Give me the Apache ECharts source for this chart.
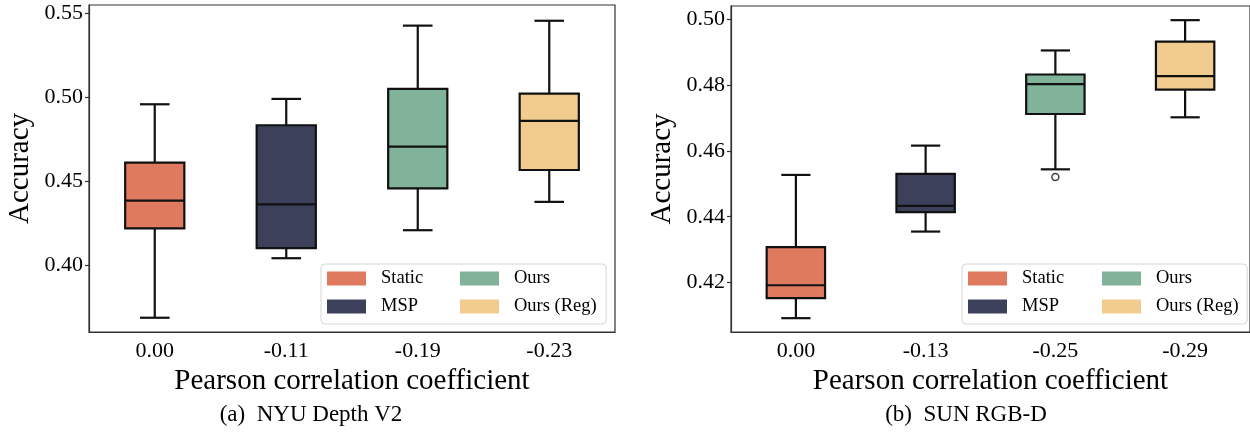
<!DOCTYPE html>
<html>
<head>
<meta charset="utf-8">
<script src="https://cdn.jsdelivr.net/npm/echarts@6/dist/echarts.min.js"></script>
<style>
  html, body { margin: 0; padding: 0; background: #fff; }
  #chart { width: 1250px; height: 440px; }
</style>
</head>
<body>
<div id="chart"></div>
<script>
const methods = ["Static", "MSP", "Ours", "Ours (Reg)"];
const methodColors = ["#E07A5F", "#3D405B", "#81B29A", "#F2CC8F"];

// x categories are the Pearson correlation coefficients
const nyuCats = ["0.00", "-0.11", "-0.19", "-0.23"];
const sunCats = ["0.00", "-0.13", "-0.25", "-0.29"];

// per method: [low whisker, Q1, median, Q3, high whisker]
const nyuStats = [
  [0.3685, 0.4218, 0.4383, 0.4610, 0.4958],
  [0.4040, 0.4100, 0.4361, 0.4833, 0.4990],
  [0.4207, 0.4456, 0.4705, 0.5050, 0.5427],
  [0.4376, 0.4566, 0.4859, 0.5022, 0.5456],
];
const sunStats = [
  [0.4092, 0.4153, 0.4192, 0.4308, 0.4527],
  [0.4355, 0.4414, 0.4433, 0.4530, 0.4616],
  [0.4544, 0.4712, 0.4803, 0.4832, 0.4905],
  [0.4702, 0.4786, 0.4827, 0.4932, 0.4997],
];
// [category index, value]
const sunOutliers = [[2, 0.4521]];

const nyuRange = [0.36, 0.555];
const sunRange = [0.405, 0.504];
const nyuTicks = [0.40, 0.45, 0.50, 0.55];
const sunTicks = [0.42, 0.44, 0.46, 0.48, 0.50];

const FONT = "'Liberation Serif', 'DejaVu Serif', serif";
const INK = "#000";
const SPINE = "#333";

const chart = echarts.init(document.getElementById("chart"));

function renderBox(params, api) {
  const x = api.value(0);
  const lo = api.coord([x, api.value(1)]);
  const q1 = api.coord([x, api.value(2)]);
  const md = api.coord([x, api.value(3)]);
  const q3 = api.coord([x, api.value(4)]);
  const hi = api.coord([x, api.value(5)]);
  const bw = api.size([1, 0])[0] * 0.45;
  const cx = lo[0];
  const stroke = { stroke: "#111", lineWidth: 2.2 };
  const seg = (x1, y1, x2, y2) => ({ type: "line", shape: { x1, y1, x2, y2 }, style: stroke });
  return {
    type: "group",
    children: [
      seg(cx, hi[1], cx, q3[1]),
      seg(cx, q1[1], cx, lo[1]),
      seg(cx - bw / 4, hi[1], cx + bw / 4, hi[1]),
      seg(cx - bw / 4, lo[1], cx + bw / 4, lo[1]),
      {
        type: "rect",
        shape: { x: cx - bw / 2, y: q3[1], width: bw, height: q1[1] - q3[1] },
        style: { fill: api.visual("color"), stroke: "#111", lineWidth: 2.2 },
      },
      seg(cx - bw / 2, md[1], cx + bw / 2, md[1]),
    ],
  };
}

function boxSeries(stats, axisIndex) {
  return methods.map((name, i) => ({
    name,
    type: "custom",
    xAxisIndex: axisIndex,
    yAxisIndex: axisIndex,
    itemStyle: { color: methodColors[i] },
    encode: { x: 0, y: [1, 2, 3, 4, 5] },
    renderItem: renderBox,
    data: [[i].concat(stats[i])],
    z: 2,
  }));
}

function xAxis(cats, gridIndex) {
  return {
    type: "category",
    gridIndex,
    data: cats,
    boundaryGap: true,
    name: "Pearson correlation coefficient",
    nameLocation: "middle",
    nameGap: 30,
    nameTextStyle: { fontFamily: FONT, fontSize: 29, color: INK },
    axisLine: { lineStyle: { color: SPINE, width: 1.2 } },
    axisTick: { alignWithLabel: true, length: 4, lineStyle: { color: SPINE, width: 1.2 } },
    axisLabel: { fontFamily: FONT, fontSize: 22, color: INK, margin: 8 },
    splitLine: { show: false },
  };
}

function yAxis(range, ticks, gridIndex) {
  return {
    type: "value",
    gridIndex,
    min: range[0],
    max: range[1],
    name: "Accuracy",
    nameLocation: "middle",
    nameGap: 54,
    nameTextStyle: { fontFamily: FONT, fontSize: 29, color: INK },
    axisLine: { show: true, lineStyle: { color: SPINE, width: 1.2 } },
    axisTick: { show: true, length: 4, customValues: ticks, lineStyle: { color: SPINE, width: 1.2 } },
    axisLabel: {
      fontFamily: FONT, fontSize: 22, color: INK, margin: 6,
      customValues: ticks,
      formatter: (v) => v.toFixed(2),
    },
    splitLine: { show: false },
  };
}

// matplotlib-style 2-column legend: first column carries the frame
function legendColumn(names, left, framed) {
  return {
    data: names,
    orient: "vertical",
    left,
    top: 264,
    padding: framed ? [5, 183, 8, 6] : [5, 0, 8, 6],
    itemGap: 9,
    itemWidth: 39,
    itemHeight: 14,
    icon: "rect",
    itemStyle: { borderWidth: 0 },
    backgroundColor: framed ? "rgba(255,255,255,0.85)" : "transparent",
    borderColor: framed ? "#d6d6d6" : "transparent",
    borderWidth: framed ? 1 : 0,
    borderRadius: 4,
    selectedMode: false,
    textStyle: { fontFamily: FONT, fontSize: 18.5, color: INK, padding: [0, 0, 0, 10] },
  };
}

chart.setOption({
  animation: false,
  backgroundColor: "#fff",
  grid: [
    { left: 89, top: 5, width: 526, height: 327, show: true, borderColor: SPINE, borderWidth: 1.2 },
    { left: 731, top: 6, width: 525, height: 326, show: true, borderColor: SPINE, borderWidth: 1.2 },
  ],
  xAxis: [xAxis(nyuCats, 0), xAxis(sunCats, 1)],
  yAxis: [yAxis(nyuRange, nyuTicks, 0), yAxis(sunRange, sunTicks, 1)],
  legend: [
    legendColumn(methods.slice(0, 2), 321, true),
    legendColumn(methods.slice(2), 454, false),
    legendColumn(methods.slice(0, 2), 962, true),
    legendColumn(methods.slice(2), 1096, false),
  ],
  graphic: [
    {
      type: "text", x: 311, y: 415,
      style: { text: "(a)  NYU Depth V2", font: "23px " + FONT, fill: INK, textAlign: "center", textVerticalAlign: "middle" },
    },
    {
      type: "text", x: 966, y: 415,
      style: { text: "(b)  SUN RGB-D", font: "23px " + FONT, fill: INK, textAlign: "center", textVerticalAlign: "middle" },
    },
  ],
  series: [
    ...boxSeries(nyuStats, 0),
    ...boxSeries(sunStats, 1),
    {
      type: "scatter",
      xAxisIndex: 1,
      yAxisIndex: 1,
      symbol: "circle",
      symbolSize: 7,
      itemStyle: { color: "#fff", borderColor: "#111", borderWidth: 1.5 },
      data: sunOutliers,
      z: 3,
    },
  ],
});
</script>
</body>
</html>
